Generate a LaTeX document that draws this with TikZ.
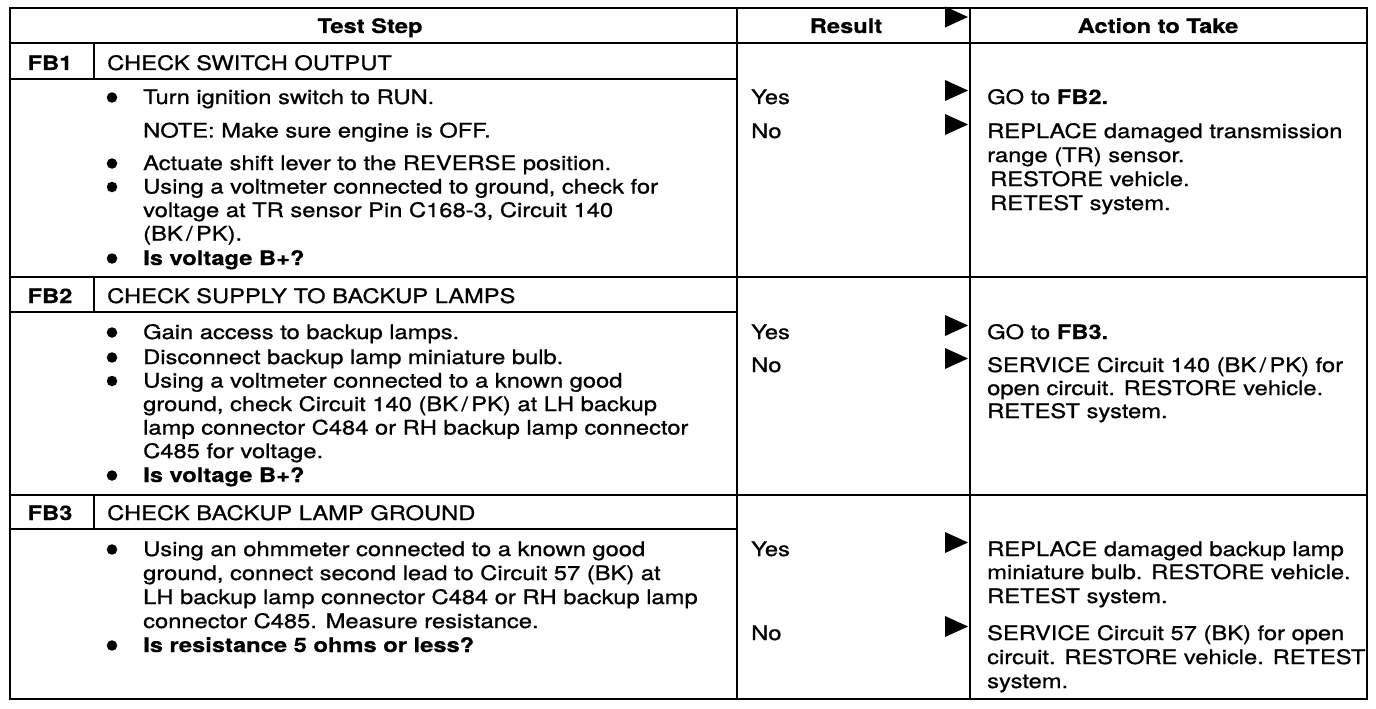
\documentclass[tikz,border=0pt]{standalone}
\usepackage{fontspec}
\setmainfont{TeX Gyre Heros}[FakeStretch=1.19,
	UprightFeatures={FakeBold=0.9},BoldFeatures={FakeBold=0.5}]
\begin{document}
\begin{tikzpicture}[x=1bp,y=-1bp,
	every node/.style={inner sep=0pt},
	txt/.style={anchor=base west,font=\fontsize{20}{24}\selectfont},
	btxt/.style={txt,font=\fontsize{20}{24}\selectfont\bfseries},
	head/.style={anchor=base,font=\fontsize{20}{24}\selectfont\bfseries},
	dot/.style={circle,fill,minimum size=10.5bp},
	rule/.style={line width=2bp}]
		%%
	\useasboundingbox (0,0) rectangle (1376,708);
	\draw [rule] (10,8) rectangle (1367,699);
	\draw [rule] (737,8) -- (737,699);
	\draw [rule] (970,8) -- (970,699);
	\draw [rule] (10,43) -- (1367,43);
	\draw [rule] (10,277) -- (1367,277);
	\draw [rule] (10,495) -- (1367,495);
	\draw [rule] (10,79) -- (737,79);
	\draw [rule] (10,312) -- (737,312);
	\draw [rule] (10,529) -- (737,529);
	\draw [rule] (94,43) -- (94,79);
	\draw [rule] (94,277) -- (94,312);
	\draw [rule] (94,495) -- (94,529);
	\foreach \y in {17,90.5,124.5,325.5,358.5,542.5,626.5}
		\fill (945,\y-10.5) -- (968,\y) -- (945,\y+10.5) -- cycle;
		%
	\node (hTest) at (370,33) [head] {Test Step};
	\node (hRes) at (846,33) [head] {Result};
	\node (hAct) at (1158,33) [head] {Action to Take};
		%
	\node (FB1) at (50,70) [head] {FB1};
	\node (FB1t) at (107,70) [txt] {CHECK SWITCH OUTPUT};
	\node (FB1b1) at (112,97.5) [dot] {};
	\node (FB1a) at (143,104) [txt] {Turn ignition switch to RUN.};
	\node (FB1n) at (143,137.5) [txt] {NOTE: Make sure engine is OFF.};
	\node (FB1b2) at (112,163.5) [dot] {};
	\node (FB1c) at (143,170) [txt] {Actuate shift lever to the REVERSE position.};
	\node (FB1b3) at (112,187) [dot] {};
	\node (FB1d1) at (143,193.5) [txt] {Using a voltmeter connected to ground, check for};
	\node (FB1d2) at (143,217) [txt] {voltage at TR sensor Pin C168-3, Circuit 140};
	\node (FB1d3) at (143,240.5) [txt] {(BK\,/\,PK).};
	\node (FB1b4) at (112,258.5) [dot] {};
	\node (FB1q) at (143,265) [btxt] {Is voltage B+?};
	\node (FB1yes) at (751,104) [txt] {Yes};
	\node (FB1no) at (751,138) [txt] {No};
	\node (FB1y1) at (987,104) [txt] {GO to \textbf{FB2.}};
	\node (FB1n1) at (987,138) [txt] {REPLACE damaged transmission};
	\node (FB1n2) at (987,162) [txt] {range (TR) sensor.};
	\node (FB1n3) at (990,186) [txt] {RESTORE vehicle.};
	\node (FB1n4) at (990,210) [txt] {RETEST system.};
		%
	\node (FB2) at (50,303) [head] {FB2};
	\node (FB2t) at (107,303) [txt] {CHECK SUPPLY TO BACKUP LAMPS};
	\node (FB2b1) at (112,332.5) [dot] {};
	\node (FB2a) at (143,339) [txt] {Gain access to backup lamps.};
	\node (FB2b2) at (112,357.5) [dot] {};
	\node (FB2c) at (143,364) [txt] {Disconnect backup lamp miniature bulb.};
	\node (FB2b3) at (112,381) [dot] {};
	\node (FB2d1) at (143,387.5) [txt] {Using a voltmeter connected to a known good};
	\node (FB2d2) at (143,411) [txt] {ground, check Circuit 140 (BK\,/\,PK) at LH backup};
	\node (FB2d3) at (143,434.5) [txt] {lamp connector C484 or RH backup lamp connector};
	\node (FB2d4) at (143,458) [txt] {C485 for voltage.};
	\node (FB2b4) at (112,475.5) [dot] {};
	\node (FB2q) at (143,482) [btxt] {Is voltage B+?};
	\node (FB2yes) at (751,339) [txt] {Yes};
	\node (FB2no) at (751,372) [txt] {No};
	\node (FB2y1) at (987,339) [txt] {GO to \textbf{FB3.}};
	\node (FB2n1) at (987,372) [txt] {SERVICE Circuit 140 (BK\,/\,PK) for};
	\node (FB2n2) at (987,395) [txt] {open circuit. RESTORE vehicle.};
	\node (FB2n3) at (987,418) [txt] {RETEST system.};
		%
	\node (FB3) at (50,520) [head] {FB3};
	\node (FB3t) at (107,520) [txt] {CHECK BACKUP LAMP GROUND};
	\node (FB3b1) at (112,549.5) [dot] {};
	\node (FB3a1) at (143,556) [txt] {Using an ohmmeter connected to a known good};
	\node (FB3a2) at (143,580) [txt] {ground, connect second lead to Circuit 57 (BK) at};
	\node (FB3a3) at (143,604) [txt] {LH backup lamp connector C484 or RH backup lamp};
	\node (FB3a4) at (143,628) [txt] {connector C485. Measure resistance.};
	\node (FB3b2) at (112,645.5) [dot] {};
	\node (FB3q) at (143,652) [btxt] {Is resistance 5 ohms or less?};
	\node (FB3yes) at (751,556) [txt] {Yes};
	\node (FB3no) at (751,640) [txt] {No};
	\node (FB3y1) at (987,556) [txt] {REPLACE damaged backup lamp};
	\node (FB3y2) at (987,579) [txt] {miniature bulb. RESTORE vehicle.};
	\node (FB3y3) at (987,603) [txt] {RETEST system.};
	\node (FB3n1) at (987,640) [txt] {SERVICE Circuit 57 (BK) for open};
	\node (FB3n2) at (987,664) [txt] {circuit. RESTORE vehicle. RETEST};
	\node (FB3n3) at (987,688) [txt] {system.};
		%
\end{tikzpicture}
\end{document}
